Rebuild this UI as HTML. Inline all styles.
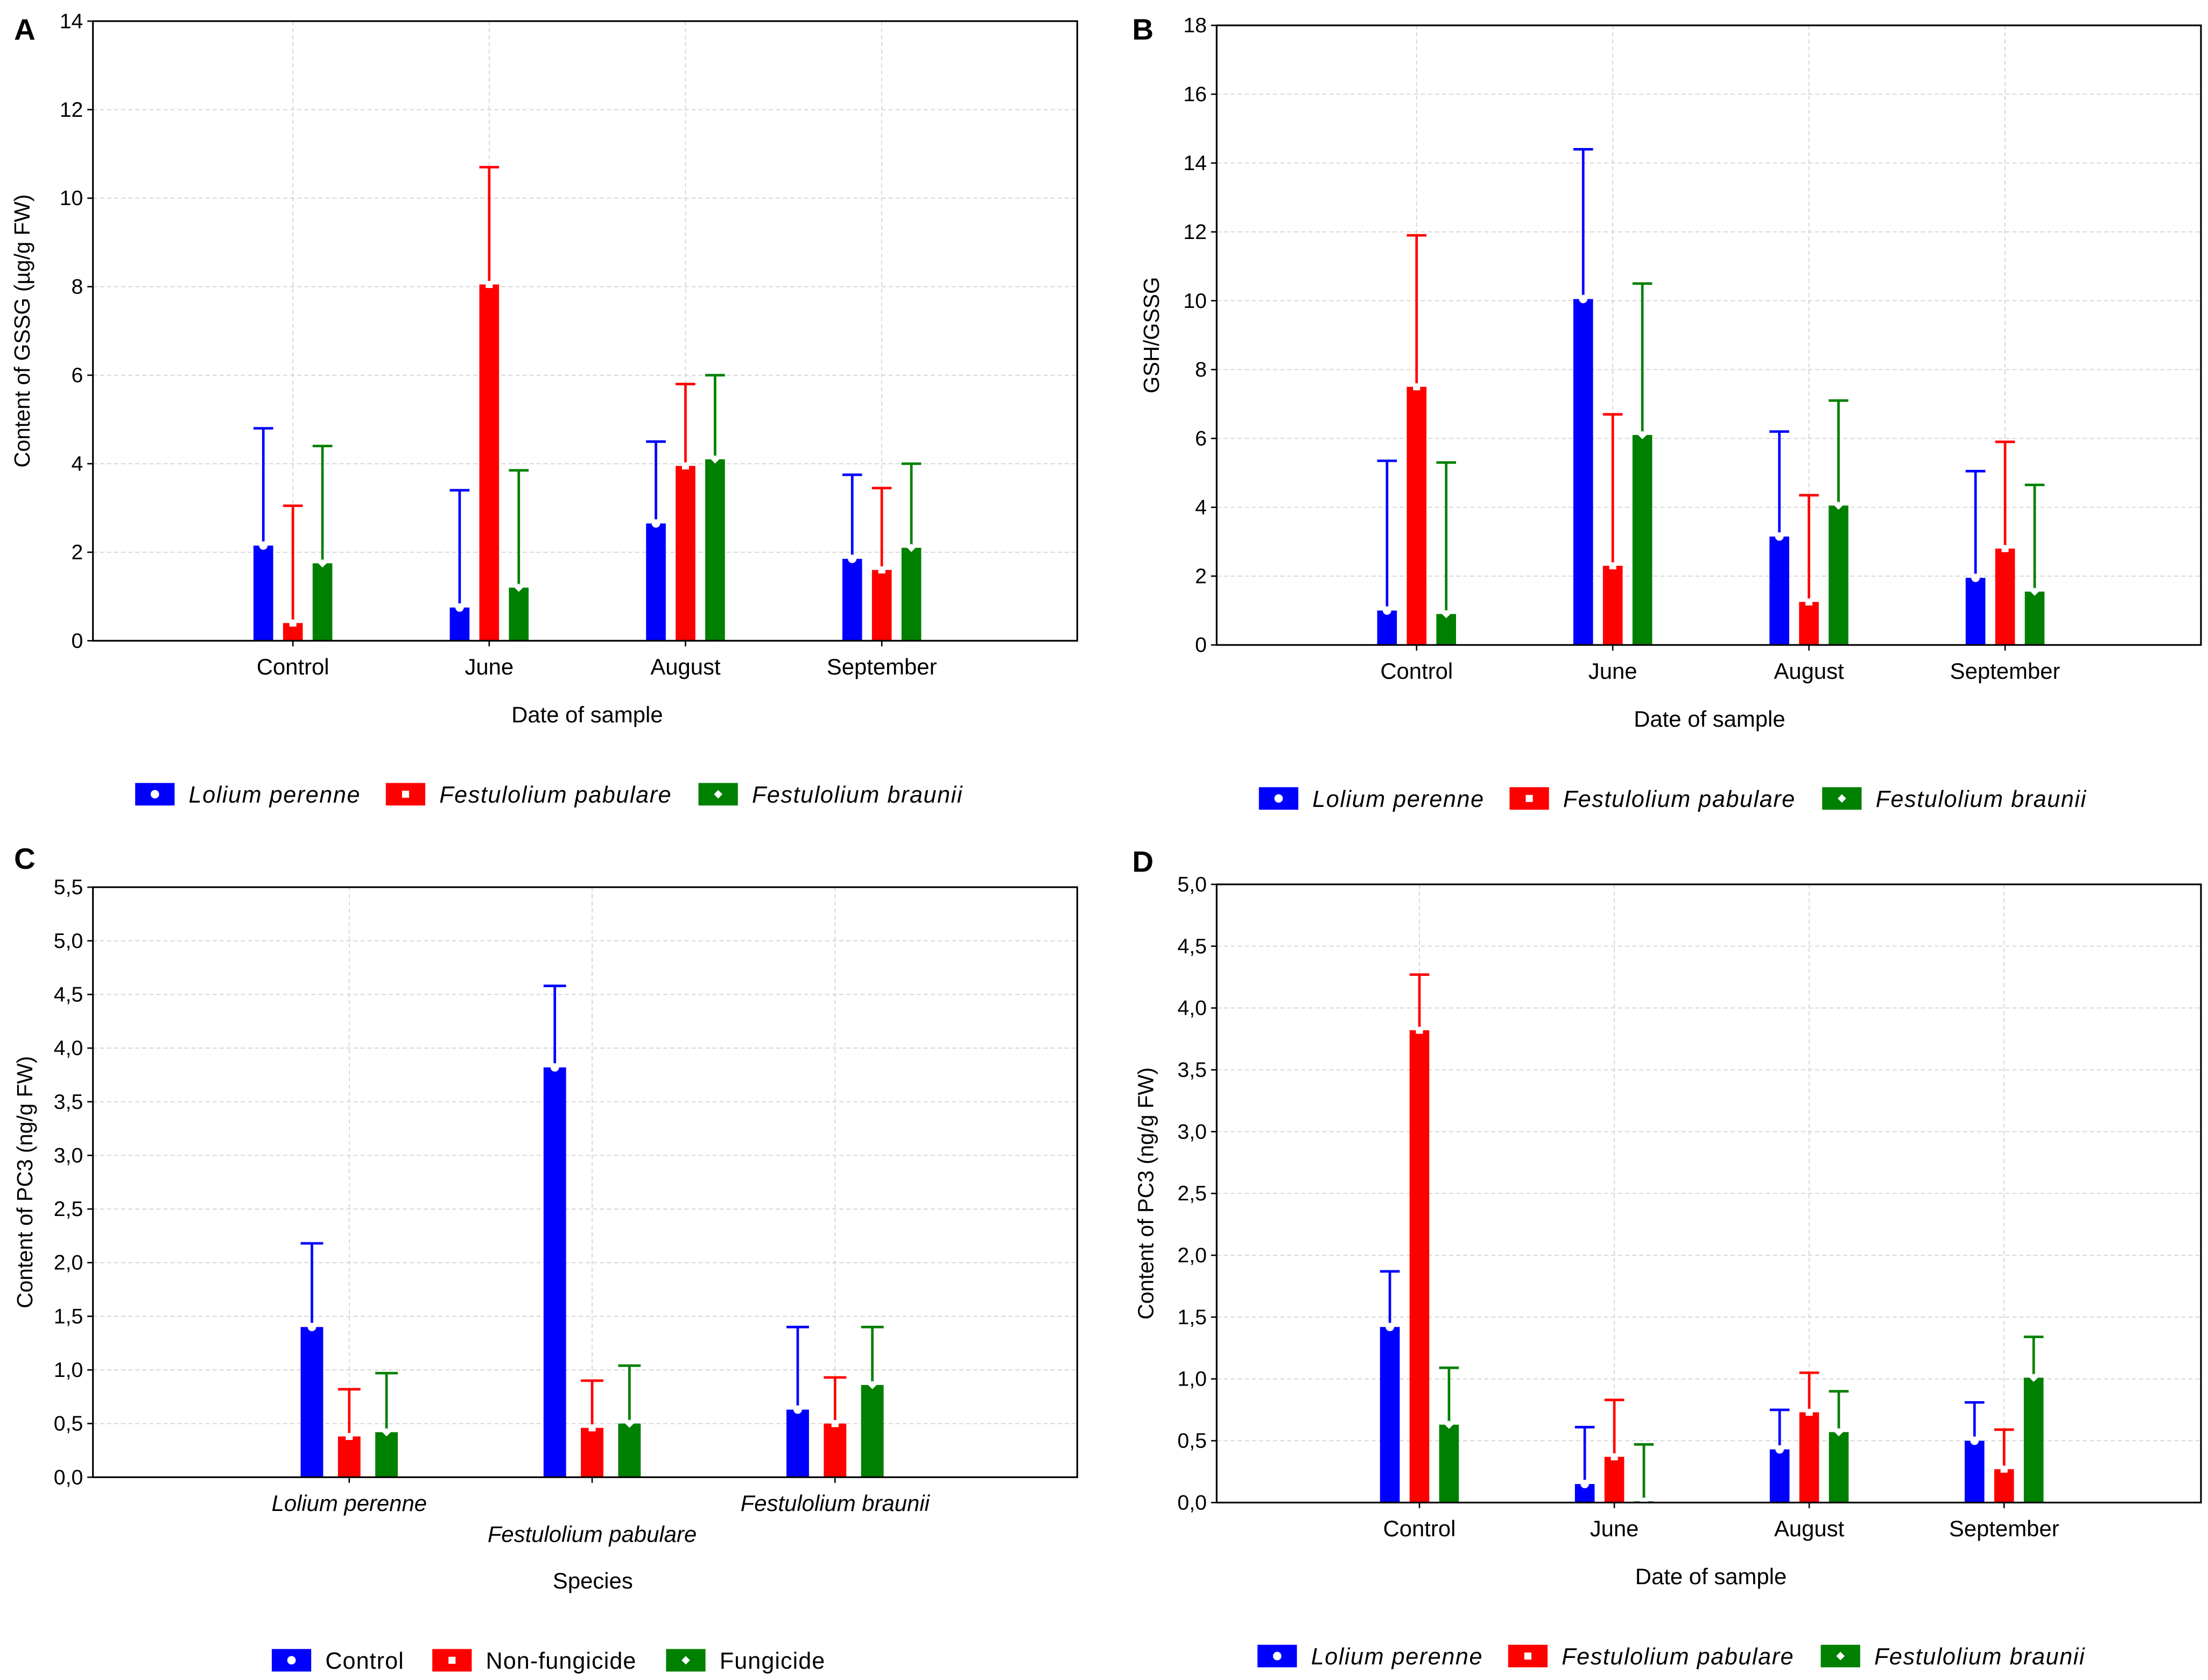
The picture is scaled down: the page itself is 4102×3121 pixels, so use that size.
<!DOCTYPE html>
<html><head><meta charset="utf-8">
<style>
html,body{margin:0;padding:0;background:#fff;}
svg{display:block;font-family:"Liberation Sans",sans-serif;}
</style></head>
<body>
<svg id="root" xmlns="http://www.w3.org/2000/svg" width="4102" height="3121" viewBox="0 0 1568 1193">
<rect width="1568" height="1193" fill="#fff"/>
</svg>
<script>
// ---- Panel A data (GSSG) ----
const catsA = ["Control","June","August","September"];
const seriesA_lolium = [2.15,0.75,2.65,1.85];
const seriesA_pab = [0.4,8.05,3.95,1.6];
const seriesA_brau = [1.75,1.2,4.1,2.1];
const errA_lolium = [4.8,3.4,4.5,3.75];
const errA_pab = [3.05,10.7,5.8,3.45];
const errA_brau = [4.4,3.85,6.0,4.0];
const ticksA = ["0","2","4","6","8","10","12","14"];
// ---- Panel B data (GSH/GSSG) ----
const catsB = ["Control","June","August","September"];
const seriesB_lolium = [1.0,10.05,3.15,1.95];
const seriesB_pab = [7.5,2.3,1.25,2.8];
const seriesB_brau = [0.9,6.1,4.05,1.55];
const errB_lolium = [5.35,14.4,6.2,5.05];
const errB_pab = [11.9,6.7,4.35,5.9];
const errB_brau = [5.3,10.5,7.1,4.65];
const ticksB = ["0","2","4","6","8","10","12","14","16","18"];
// ---- Panel C data (PC3 by species) ----
const catsC = ["Lolium perenne","Festulolium pabulare","Festulolium braunii"];
const seriesC_control = [1.4,3.82,0.63];
const seriesC_nonfung = [0.38,0.46,0.5];
const seriesC_fung = [0.42,0.5,0.86];
const errC_control = [2.18,4.58,1.4];
const errC_nonfung = [0.82,0.9,0.93];
const errC_fung = [0.97,1.04,1.4];
const ticksC = ["0,0","0,5","1,0","1,5","2,0","2,5","3,0","3,5","4,0","4,5","5,0","5,5"];
// ---- Panel D data (PC3 by date) ----
const catsD = ["Control","June","August","September"];
const seriesD_lolium = [1.42,0.15,0.43,0.5];
const seriesD_pab = [3.82,0.37,0.73,0.27];
const seriesD_brau = [0.63,0.01,0.57,1.01];
const errD_lolium = [1.87,0.61,0.75,0.81];
const errD_pab = [4.27,0.83,1.05,0.59];
const errD_brau = [1.09,0.47,0.9,1.34];
const ticksD = ["0,0","0,5","1,0","1,5","2,0","2,5","3,0","3,5","4,0","4,5","5,0"];

const NS="http://www.w3.org/2000/svg";
const root=document.getElementById('root');
const COLORS=["#0000ff","#ff0000","#008000"];
function mk(tag,attrs,parent){const e=document.createElementNS(NS,tag);for(const k in attrs)e.setAttribute(k,attrs[k]);(parent||root).appendChild(e);return e;}
function txt(s,attrs,parent){const e=mk('text',attrs,parent);e.textContent=s;return e;}
function marker(g,kind,cx,cy){
  let m;
  if(kind===0){m=mk('circle',{cx:cx,cy:cy,r:3,fill:'#fff'},g);}
  else if(kind===1){m=mk('rect',{x:cx-2.5,y:cy-2.5,width:5,height:5,fill:'#fff'},g);}
  else {m=mk('polygon',{points:`${cx},${cy-3} ${cx+3},${cy} ${cx},${cy+3} ${cx-3},${cy}`,fill:'#fff'},g);}
  
  
}
function panel(o){
  const g=mk('g',{});
  
  
  const {x0,x1,y0,y1,max}=o;
  const ys=v=>y1-(v/max)*(y1-y0);
  const xs=i=>o.catStart+o.catStep*i;
  o.ticks.forEach((t,i)=>{
    const v=i*o.tickStep, y=ys(v);
    if(i>0&&i<o.ticks.length-1){const gl=mk('line',{x1:x0,x2:x1,y1:y,y2:y,stroke:'#d4d4d4','stroke-width':0.7,'stroke-dasharray':'3,2'},g);
      }
    const tk=mk('line',{x1:x0-4,x2:x0,y1:y,y2:y,stroke:'#000','stroke-width':1},g);
    
    const tl=txt(t,{x:x0-7,y:y+5,'text-anchor':'end','font-size':15},g);
    
  });
  o.cats.forEach((c,i)=>{
    const x=xs(i);
    const gl=mk('line',{x1:x,x2:x,y1:y0,y2:y1,stroke:'#d4d4d4','stroke-width':0.7,'stroke-dasharray':'3,2'},g);
    
    const tk=mk('line',{x1:x,x2:x,y1:y1,y2:y1+4,stroke:'#000','stroke-width':1},g);
    
    const ly=(o.stagger&&i%2===1)?y1+46:y1+24;
    const tl=txt(c,{x:x,y:ly,'text-anchor':'middle','font-size':16,'font-style':o.italicCats?'italic':'normal'},g);
    
  });
  const bw=o.bw, off=o.off;
  o.series.forEach((s,si)=>{
    s.forEach((v,i)=>{
      const cx=xs(i)+(si-1)*off;
      const e=o.errs[si][i];
      const el=mk('line',{x1:cx,x2:cx,y1:ys(v),y2:ys(e),stroke:COLORS[si],'stroke-width':1.8},g);
      
      const cap=mk('line',{x1:cx-bw/2,x2:cx+bw/2,y1:ys(e),y2:ys(e),stroke:COLORS[si],'stroke-width':1.8},g);
      
      const r=mk('rect',{x:cx-bw/2,y:ys(v),width:bw,height:y1-ys(v),fill:COLORS[si]},g);
      
      marker(g,si,cx,ys(v));
    });
  });
  const fr=mk('rect',{x:x0,y:y0,width:x1-x0,height:y1-y0,fill:'none',stroke:'#000','stroke-width':1.2},g);
  
  const xt=txt(o.xtitle,{x:o.xtitleX,y:o.xtitleY,'text-anchor':'middle','font-size':16},g);
  
  const yt=txt(o.ytitle,{x:0,y:0,'text-anchor':'middle','font-size':15.5,transform:`translate(${o.ytitleX},${(y0+y1)/2}) rotate(-90)`},g);
  
  const pl=txt(o.letter,{x:o.letterX,y:o.letterY,'font-size':21,'font-weight':'bold'},g);
  
  let lx=o.legX;
  o.legend.forEach((L,si)=>{
    const lg=mk('g',{},g);
    
    mk('rect',{x:lx,y:o.legY-8,width:28,height:16,fill:COLORS[si]},lg);
    marker(lg,si,lx+14,o.legY);
    txt(L,{x:lx+38,y:o.legY+6,'font-size':16.5,'font-style':o.italicLeg?'italic':'normal','letter-spacing':o.ls||0},lg);
    lx+=o.legGaps[si];
  });
}
const spNames=["Lolium perenne","Festulolium pabulare","Festulolium braunii"];
panel({name:'panel-a',letter:'A',letterX:10,letterY:28,x0:66,x1:765,y0:15,y1:455,max:14,tickStep:2,ticks:ticksA,cats:catsA,
  catStart:208,catStep:139.4,
  series:[seriesA_lolium,seriesA_pab,seriesA_brau],errs:[errA_lolium,errA_pab,errA_brau],seriesNames:['lolium','pabulare','braunii'],
  bw:14,off:21,xtitle:'Date of sample',xtitleX:417,xtitleY:513,ytitle:'Content of GSSG (µg/g FW)',ytitleX:21,
  legend:spNames,italicLeg:true,ls:0.6,legX:96,legY:564,legGaps:[178,222,0]});
panel({name:'panel-b',letter:'B',letterX:804,letterY:28,x0:864,x1:1563,y0:18,y1:458,max:18,tickStep:2,ticks:ticksB,cats:catsB,
  catStart:1006,catStep:139.3,
  series:[seriesB_lolium,seriesB_pab,seriesB_brau],errs:[errB_lolium,errB_pab,errB_brau],seriesNames:['lolium','pabulare','braunii'],
  bw:14,off:21,xtitle:'Date of sample',xtitleX:1214,xtitleY:516,ytitle:'GSH/GSSG',ytitleX:823,
  legend:spNames,italicLeg:true,ls:0.6,legX:894,legY:567,legGaps:[178,222,0]});
panel({name:'panel-c',letter:'C',letterX:10,letterY:617,x0:66,x1:765,y0:630,y1:1049,max:5.5,tickStep:0.5,ticks:ticksC,cats:catsC,
  catStart:248,catStep:172.5,
  series:[seriesC_control,seriesC_nonfung,seriesC_fung],errs:[errC_control,errC_nonfung,errC_fung],seriesNames:['control','nonfungicide','fungicide'],
  bw:16,off:26.5,stagger:true,italicCats:true,xtitle:'Species',xtitleX:421,xtitleY:1128,ytitle:'Content of PC3 (ng/g FW)',ytitleX:23,
  legend:["Control","Non-fungicide","Fungicide"],italicLeg:false,ls:0.4,legX:193,legY:1179,legGaps:[114,166,0]});
panel({name:'panel-d',letter:'D',letterX:804,letterY:619,x0:864,x1:1563,y0:628,y1:1067,max:5,tickStep:0.5,ticks:ticksD,cats:catsD,
  catStart:1008,catStep:138.4,
  series:[seriesD_lolium,seriesD_pab,seriesD_brau],errs:[errD_lolium,errD_pab,errD_brau],seriesNames:['lolium','pabulare','braunii'],
  bw:14,off:21,xtitle:'Date of sample',xtitleX:1215,xtitleY:1125,ytitle:'Content of PC3 (ng/g FW)',ytitleX:819,
  legend:spNames,italicLeg:true,ls:0.6,legX:893,legY:1176,legGaps:[178,222,0]});
</script>
</body></html>
